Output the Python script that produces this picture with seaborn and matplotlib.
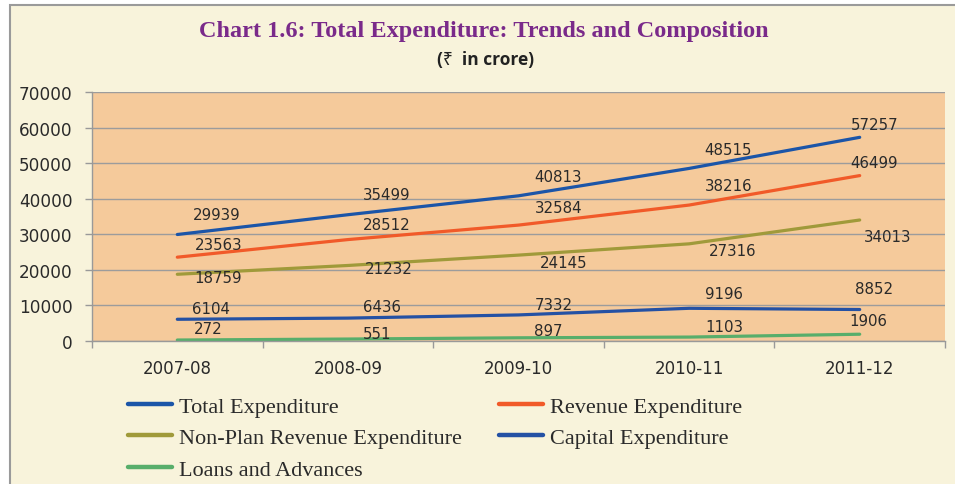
import pandas as pd
import seaborn as sns
import matplotlib.pyplot as plt
from matplotlib.patches import Rectangle
from matplotlib.ticker import FixedLocator

# 数据
years = ['2007-08', '2008-09', '2009-10', '2010-11', '2011-12']
total_exp = [29939, 35499, 40813, 48515, 57257]
revenue_exp = [23563, 28512, 32584, 38216, 46499]
non_plan_rev_exp = [18759, 21232, 24145, 27316, 34013]
capital_exp = [6104, 6436, 7332, 9196, 8852]
loans_adv = [272, 551, 897, 1103, 1906]

series_names = ['Total Expenditure', 'Revenue Expenditure', 'Non-Plan Revenue Expenditure',
                'Capital Expenditure', 'Loans and Advances']
series_values = [total_exp, revenue_exp, non_plan_rev_exp, capital_exp, loans_adv]

colors = ['#1B55A8', '#F15A29', '#A09A3A', '#2451A4', '#58AE6B']

# 数据标签偏移 (像素)
label_offsets = [
    [(39, 20), (39, 20), (40, 19), (39, 19), (15, 13)],
    [(41, 13), (39, 15), (40, 18), (40, 20), (14, 13)],
    [(41, -3), (41, -3), (45, -7), (44, -7), (28, -16)],
    [(34, 11), (34, 12), (35, 10), (35, 15), (14, 21)],
    [(31, 12), (29, 6), (30, 7), (35, 11), (9, 14)],
]

rows = []
for name, vals in zip(series_names, series_values):
    for y, v in zip(years, vals):
        rows.append({'year': y, 'value': v, 'series': name})
df = pd.DataFrame(rows)

sns.set_theme(style='white')
plt.rcParams['font.family'] = ['DejaVu Sans']

fig = plt.figure(figsize=(9.55, 4.85), dpi=100, facecolor='white')
fig.patches.append(Rectangle((10 / 955, -0.1), 1.2, (485 - 6) / 485 + 0.1,
                             transform=fig.transFigure, facecolor='#F8F3DB',
                             edgecolor='#9A9A9A', linewidth=1.5, zorder=-10))

ax = fig.add_axes([92 / 955, 143 / 485, 853 / 955, 249 / 485])
ax.set_facecolor('#F5CA9B')

sns.lineplot(data=df, x='year', y='value', hue='series', hue_order=series_names,
             palette=colors, linewidth=2.3, sort=False, legend=False, ax=ax)

for vals, offs in zip(series_values, label_offsets):
    for i, (v, off) in enumerate(zip(vals, offs)):
        ax.annotate(f'{v}', xy=(i, v), xytext=off, textcoords='offset pixels',
                    ha='center', va='center', fontsize=10.8, color='#2A2A2A')

ax.set_xlim(-0.5, 4.5)
ax.set_ylim(0, 70000)
ax.set_yticks(range(0, 70001, 10000))
ax.set_xticks(range(len(years)))
ax.set_xticklabels(years)
ax.xaxis.set_minor_locator(FixedLocator([i - 0.5 for i in range(len(years) + 1)]))
ax.tick_params(axis='x', which='major', length=0, pad=13, labelsize=12, labelcolor='#2A2A2A')
ax.tick_params(axis='x', which='minor', length=5, width=1, color='#999999', direction='out', bottom=True)
ax.tick_params(axis='y', length=5, width=1, color='#999999', direction='out', left=True,
               pad=9, labelsize=12.2, labelcolor='#2A2A2A')
ax.grid(axis='y', color='#9C9C9C', linewidth=1)
ax.set_axisbelow(True)
ax.set_xlabel('')
ax.set_ylabel('')
for side in ['top', 'right']:
    ax.spines[side].set_visible(False)
for side in ['left', 'bottom']:
    ax.spines[side].set_color('#999999')
    ax.spines[side].set_linewidth(1)

fig.text(484 / 955, 1 - 32 / 485, 'Chart 1.6: Total Expenditure: Trends and Composition',
         ha='center', va='center', fontsize=17.5, fontweight='bold', color='#7A2A8A',
         family=['Liberation Serif'])
fig.text(486 / 955, 1 - 60 / 485, '(₹  in crore)', ha='center', va='center',
         fontsize=12.5, fontweight='bold', color='#222222',
         family=['Open Sans', 'Noto Sans', 'DejaVu Sans'])

# 图例 (两列, 按行排列)
handles = [plt.Line2D([], [], color=c, linewidth=3.2) for c in colors]
leg_kw = dict(frameon=False, loc='upper left', borderpad=0, handlelength=2.0,
              handletextpad=0.28, labelspacing=0.5, borderaxespad=0,
              prop={'family': 'Liberation Serif', 'size': 16})
leg1 = fig.legend([handles[0], handles[2], handles[4]],
                  [series_names[0], series_names[2], series_names[4]],
                  bbox_to_anchor=(128 / 955, 1 - 397 / 485), **leg_kw)
leg2 = fig.legend([handles[1], handles[3]], [series_names[1], series_names[3]],
                  bbox_to_anchor=(499 / 955, 1 - 397 / 485), **leg_kw)
for leg in (leg1, leg2):
    for t in leg.get_texts():
        t.set_color('#2A2A2A')

fig.savefig('out.png', dpi=100, facecolor=fig.get_facecolor())
